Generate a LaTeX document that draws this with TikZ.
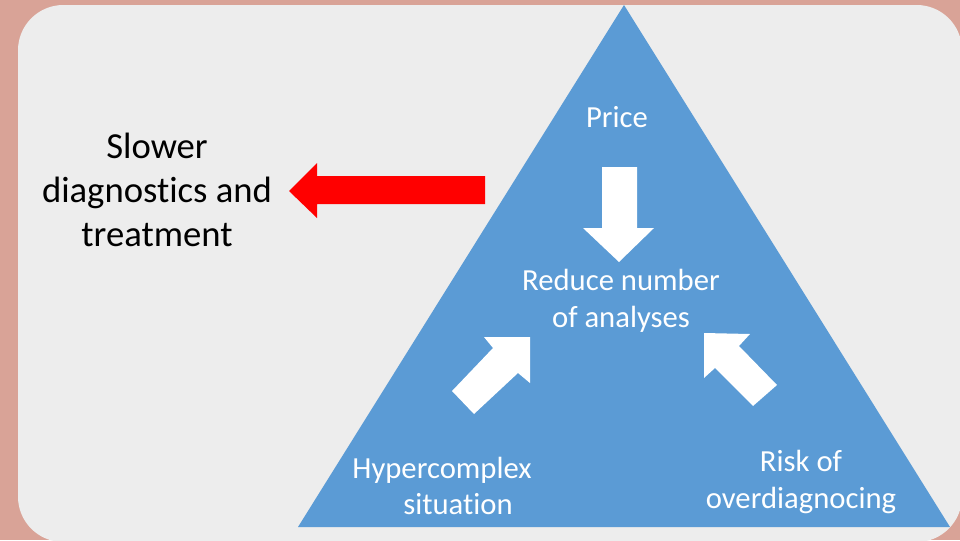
\documentclass[tikz,border=0pt]{standalone}
\usepackage{fontspec}
\setmainfont[Ligatures=NoCommon]{Carlito}

\definecolor{framebg}{HTML}{D9A397}
\definecolor{panelbg}{HTML}{EDEDED}
\definecolor{triblue}{HTML}{5B9BD5}
\definecolor{alertred}{HTML}{FF0000}

\tikzset{
  intext/.style={text=white, align=center, inner sep=0pt, font=\fontsize{23}{27.6}\selectfont},
  outtext/.style={text=black, align=center, inner sep=0pt, font=\fontsize{27.5}{33}\selectfont},
  blockarrow/.style={fill=white},
}

\begin{document}
\begin{tikzpicture}[x=0.75pt,y=-0.75pt]
        \useasboundingbox (0,0) rectangle (960,540);
        \clip (0,0) rectangle (960,540);

        % Background and panel
        \fill[framebg] (0,0) rectangle (960,540);
        \fill[panelbg, rounded corners=34pt] (18,5) rectangle (962,542);

        % Triangle
        \fill[triblue] (624,5) -- (950,527) -- (298,527) -- cycle;

        % Texts inside the triangle
        \node[intext] (price) at (617,117) {Price};
        \node[intext] (reduce) at (621,301) {Reduce number\\of analyses};
        \node[intext] (hyper) at (442,486) {Hypercomplex\\\hspace*{24pt}situation};
        \node[intext] (risk) at (801,482) {Risk of\\overdiagnocing};

        % Text on the left
        \node[outtext] (slower) at (157,190) {Slower\\diagnostics and\\treatment};

        % White block arrows
        \fill[blockarrow] (602,167) -- (637,167) -- (637,228) -- (654,228) -- (619,262) -- (583,228) -- (602,228) -- cycle;
        \fill[blockarrow] (530,337) -- (530,383) -- (518,373) -- (474,414) -- (452,391) -- (493,348) -- (484,337) -- cycle;
        \fill[blockarrow] (704,333) -- (750,334) -- (739,346) -- (777,385) -- (753,406) -- (715,368) -- (704,378) -- cycle;

        % Red arrow
        \fill[alertred] (289,191) -- (317,163) -- (317,176) -- (485,176) -- (485,204) -- (317,204) -- (317,218) -- cycle;
\end{tikzpicture}
\end{document}
